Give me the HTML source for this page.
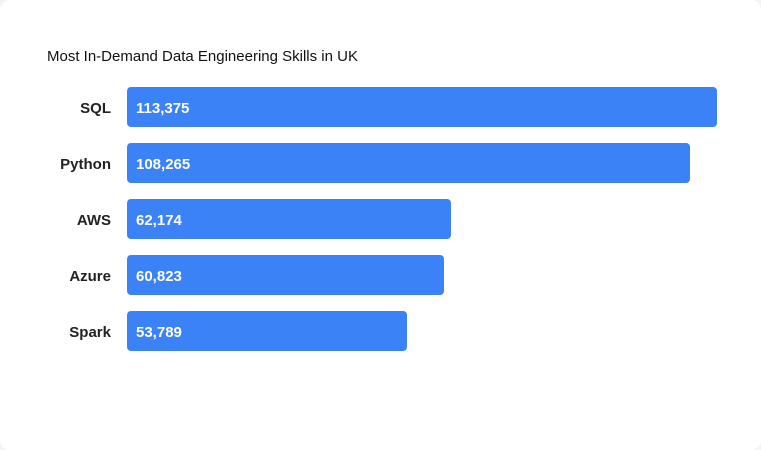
<!DOCTYPE html>
<html><head><meta charset="utf-8"><style>
body{margin:0;background:#f3f4f6;font-family:"Liberation Sans",sans-serif}
#card{position:absolute;left:0;top:0;width:761px;height:450px;background:#fff;border-radius:10px}
#title{position:absolute;left:47px;top:48px;font-size:15px;color:#111;}
.lbl{position:absolute;left:0;width:111px;text-align:right;font-size:15px;font-weight:bold;color:#222;line-height:40px;margin-top:2px}
.bar{position:absolute;left:127px;height:40px;background:#3b82f6;border-radius:4px}
.val{position:absolute;left:9px;top:2px;line-height:40px;color:#fff;font-weight:bold;font-size:15px}
</style></head><body>
<div id="card">
<div id="title">Most In-Demand Data Engineering Skills in UK</div>
</div>
<script>
const categories=["SQL","Python","AWS","Azure","Spark"];
const values=[113375,108265,62174,60823,53789];
const maxV=113375, plotW=590, top0=87, step=56;
const card=document.getElementById('card');
function x(v){return v/maxV*plotW;}
categories.forEach((c,i)=>{
  const l=document.createElement('div');l.className='lbl';
  
  
  l.style.top=(top0+i*step)+'px';l.textContent=c;card.appendChild(l);
  const b=document.createElement('div');b.className='bar';
  
  
  b.style.top=(top0+i*step)+'px';b.style.width=x(values[i])+'px';
  const t=document.createElement('div');t.className='val';
  
  
  t.textContent=values[i].toLocaleString('en-US');b.appendChild(t);
  card.appendChild(b);
});
</script>
</body></html>
